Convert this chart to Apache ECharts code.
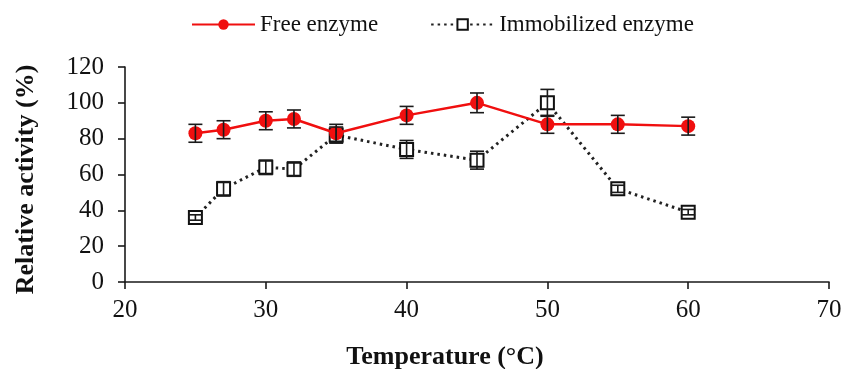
<!DOCTYPE html>
<html>
<head>
<meta charset="utf-8">
<script src="https://cdn.jsdelivr.net/npm/echarts@6/dist/echarts.min.js"></script>
<style>
  html, body { margin: 0; padding: 0; background: #fff; }
  #chart { width: 841px; height: 369px; }
</style>
</head>
<body>
<div id="chart"></div>
<script>
// Temperatures (°C) at which activity was measured
const temperatures = [25, 27, 30, 32, 35, 40, 45, 50, 55, 60];

// Relative activity (%) and standard deviations
const freeActivity = [83, 85, 90, 91, 83, 93, 100, 88, 88, 87];
const freeError = [5, 5, 5, 5, 5, 5, 5.5, 5, 5, 5];
const immobilizedActivity = [36, 52, 64, 63, 82, 74, 68, 100, 52, 39];
const immobilizedError = [1.5, 4, 4, 4, 4.5, 5, 5, 7.5, 2, 1.5];

// Axis ticks
const xTicks = { min: 20, max: 70, interval: 10 };
const yTicks = { min: 0, max: 120, interval: 20 };

const serif = '"Liberation Serif", "Times New Roman", serif';

function pairs(xs, ys) {
  return xs.map((x, i) => [x, ys[i]]);
}
function errorData(xs, ys, es) {
  return xs.map((x, i) => [x, ys[i] - es[i], ys[i] + es[i]]);
}

function errorBarRenderer(params, api) {
  const x = api.value(0);
  const lo = api.coord([x, api.value(1)]);
  const hi = api.coord([x, api.value(2)]);
  const cap = 7;
  const style = { stroke: '#1a1a1a', lineWidth: 1.6, fill: null };
  return {
    type: 'group',
    children: [
      { type: 'line', shape: { x1: lo[0], y1: lo[1], x2: hi[0], y2: hi[1] }, style },
      { type: 'line', shape: { x1: lo[0] - cap, y1: lo[1], x2: lo[0] + cap, y2: lo[1] }, style },
      { type: 'line', shape: { x1: hi[0] - cap, y1: hi[1], x2: hi[0] + cap, y2: hi[1] }, style }
    ]
  };
}

const chart = echarts.init(document.getElementById('chart'), null, { renderer: 'canvas' });

chart.setOption({
  animation: false,
  backgroundColor: '#fff',
  textStyle: { fontFamily: serif },
  legend: {
    top: 8,
    left: 186,
    itemWidth: 63,
    itemHeight: 13,
    itemGap: 52,
    data: ['Free enzyme', 'Immobilized enzyme'],
    textStyle: { fontFamily: serif, fontSize: 23, color: '#111' }
  },
  grid: { left: 125, right: 12, top: 67, bottom: 87, outerBoundsMode: 'none', containLabel: false },
  xAxis: {
    type: 'value',
    min: xTicks.min,
    max: xTicks.max,
    interval: xTicks.interval,
    name: 'Temperature (°C)',
    nameLocation: 'middle',
    nameGap: 62,
    nameTextStyle: { fontFamily: serif, fontSize: 26, fontWeight: 'bold', color: '#111', padding: [0, 64, 0, 0] },
    axisLine: { lineStyle: { color: '#1a1a1a', width: 1.6 } },
    axisTick: { show: true, length: 7, lineStyle: { color: '#1a1a1a', width: 1.6 } },
    axisLabel: { fontFamily: serif, fontSize: 25, color: '#111', margin: 16 },
    splitLine: { show: false }
  },
  yAxis: {
    type: 'value',
    min: yTicks.min,
    max: yTicks.max,
    interval: yTicks.interval,
    name: 'Relative activity (%)',
    nameLocation: 'middle',
    nameGap: 86,
    nameTextStyle: { fontFamily: serif, fontSize: 26, fontWeight: 'bold', color: '#111', padding: [0, 10, 0, 0] },
    axisLine: { show: true, lineStyle: { color: '#1a1a1a', width: 1.6 } },
    axisTick: { show: true, length: 7, lineStyle: { color: '#1a1a1a', width: 1.6 } },
    axisLabel: { fontFamily: serif, fontSize: 25, color: '#111', margin: 21 },
    splitLine: { show: false }
  },
  series: [
    {
      name: 'Free enzyme',
      type: 'line',
      data: pairs(temperatures, freeActivity),
      symbol: 'circle',
      symbolSize: 14,
      itemStyle: { color: '#f00f0f' },
      lineStyle: { color: '#f00f0f', width: 2.5 },
      z: 3
    },
    {
      name: 'Immobilized enzyme',
      type: 'line',
      data: pairs(temperatures, immobilizedActivity),
      symbol: 'rect',
      symbolSize: 13,
      itemStyle: { color: '#fff', borderColor: '#111', borderWidth: 2 },
      lineStyle: { color: '#222', width: 3, type: [2.5, 4] },
      z: 2
    },
    {
      name: 'Free enzyme SD',
      type: 'custom',
      renderItem: errorBarRenderer,
      data: errorData(temperatures, freeActivity, freeError),
      encode: { x: 0, y: [1, 2] },
      z: 4
    },
    {
      name: 'Immobilized enzyme SD',
      type: 'custom',
      renderItem: errorBarRenderer,
      data: errorData(temperatures, immobilizedActivity, immobilizedError),
      encode: { x: 0, y: [1, 2] },
      z: 4
    }
  ]
});
</script>
</body>
</html>
